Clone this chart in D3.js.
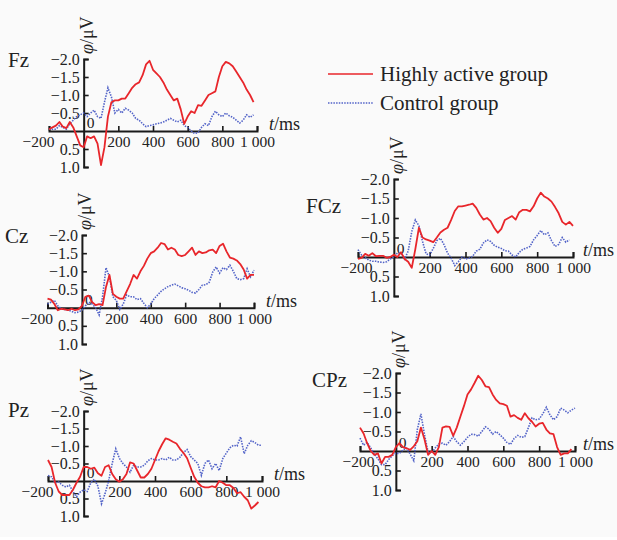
<!DOCTYPE html>
<html>
<head>
<meta charset="utf-8">
<script src="https://cdn.jsdelivr.net/npm/d3@7"></script>
<style>
body { margin: 0; background: #fafafa; }
svg { display: block; font-family: "Liberation Serif", "Times New Roman", serif; }
</style>
</head>
<body>
<div id="chart"></div>
<script>
// ERP waveforms at five electrodes, two groups

const times = [-200,-180,-160,-140,-120,-100,-80,-60,-40,-20,
	0,20,40,60,80,100,120,140,160,180,
	200,220,240,260,280,300,320,340,360,380,
	400,420,440,460,480,500,520,540,560,580,
	600,620,640,660,680,700,720,740,760,780,
	800,820,840,860,880,900,920,940,960,980,
	1000];

const fzHigh = [-0.05,-0.1,-0.15,-0.25,-0.12,-0.08,-0.25,-0.1,0.15,0.4,
	0.45,0.15,0.2,0.15,0.35,0.95,0.45,-0.4,-0.8,-0.85,
	-0.85,-0.9,-0.9,-1.05,-1.2,-1.3,-1.35,-1.55,-1.85,-1.95,
	-1.7,-1.6,-1.5,-1.35,-1.15,-1.0,-0.85,-0.9,-0.6,-0.2,
	-0.4,-0.55,-0.5,-0.72,-0.7,-0.85,-1.0,-1.05,-1.1,-1.5,
	-1.8,-1.92,-1.88,-1.8,-1.65,-1.5,-1.35,-1.15,-1.0,-0.8,
	null];
const fzControl = [-0.05,-0.05,-0.05,-0.15,-0.1,-0.05,-0.2,-0.3,-0.4,-0.45,
	-0.5,-0.4,-0.5,-0.58,-0.4,-0.35,-0.8,-1.2,-0.95,-0.5,
	-0.6,-0.5,-0.63,-0.58,-0.5,-0.35,-0.3,-0.2,-0.12,-0.15,
	-0.17,-0.2,-0.22,-0.25,-0.3,-0.35,-0.3,-0.25,-0.3,-0.15,
	-0.1,0.0,0.07,0.05,-0.1,-0.2,-0.15,-0.4,-0.55,-0.45,
	-0.4,-0.5,-0.42,-0.38,-0.3,-0.22,-0.3,-0.45,-0.38,-0.45,
	null];

const czHigh = [-0.25,-0.22,-0.1,0.07,0.03,0.05,0.07,0.03,0.07,0.05,
	-0.05,-0.3,-0.33,-0.15,-0.07,-0.1,-0.07,-0.57,-0.9,-0.38,
	-0.3,-0.25,-0.25,-0.45,-0.65,-0.9,-0.8,-1.0,-1.15,-1.35,
	-1.5,-1.55,-1.65,-1.78,-1.75,-1.6,-1.65,-1.6,-1.45,-1.42,
	-1.45,-1.55,-1.65,-1.45,-1.55,-1.5,-1.52,-1.58,-1.6,-1.5,
	-1.7,-1.76,-1.55,-1.38,-1.35,-1.3,-1.2,-1.05,-0.8,-0.9,
	-0.9];
const czControl = [-0.1,-0.15,-0.2,-0.05,0.03,0.05,0.07,0.1,0.14,0.12,
	0.07,-0.05,-0.15,-0.1,0.0,0.2,-0.3,-1.1,-0.85,-0.3,
	-0.2,0.05,-0.1,-0.35,-0.3,-0.3,-0.22,-0.25,-0.12,0.0,
	-0.1,-0.25,-0.35,-0.45,-0.52,-0.58,-0.62,-0.65,-0.6,-0.55,
	-0.52,-0.48,-0.42,-0.4,-0.5,-0.62,-0.63,-0.7,-0.98,-1.12,
	-0.95,-1.1,-1.05,-1.17,-1.0,-0.8,-0.77,-0.8,-1.07,-0.85,
	-1.03];

const pzHigh = [-0.6,-0.4,0.05,0.3,0.4,0.4,0.4,0.25,0.05,-0.12,
	-0.4,-0.4,-0.35,-0.38,-0.22,-0.15,-0.4,-0.45,-0.2,-0.05,
	0.02,-0.05,-0.2,-0.53,-0.5,-0.3,-0.1,-0.1,-0.2,-0.35,
	-0.6,-0.85,-1.05,-1.22,-1.18,-1.12,-1.07,-0.92,-0.8,-0.65,
	-0.38,-0.12,0.05,0.15,0.18,0.18,0.15,0.18,0.0,0.05,
	0.12,0.12,0.2,0.35,0.32,0.45,0.55,0.79,0.7,0.6,
	null];
const pzControl = [-0.16,-0.12,0.05,0.03,0.12,0.17,0.12,0.3,0.45,0.32,
	0.25,0.3,0.05,-0.05,0.15,0.65,0.36,0.0,-0.5,-0.92,
	-0.65,-0.5,-0.4,-0.25,-0.45,-0.4,-0.4,-0.45,-0.58,-0.64,
	-0.6,-0.6,-0.64,-0.6,-0.68,-0.6,-0.6,-0.68,-0.82,-0.9,
	-0.7,-0.6,-0.5,-0.16,-0.5,-0.6,-0.35,-0.5,-0.3,-0.64,
	-0.8,-0.95,-1.02,-1.0,-1.26,-0.78,-1.02,-1.15,-1.1,-1.02,
	-1.02];

const fczHigh = [0.05,0.02,-0.08,-0.03,-0.1,-0.02,-0.03,-0.03,0.02,0.0,
	-0.06,0.0,-0.12,0.05,0.12,0.28,-0.2,-0.75,-0.5,-0.45,
	-0.42,-0.38,-0.5,-0.63,-0.7,-0.75,-0.95,-1.18,-1.3,-1.3,
	-1.32,-1.34,-1.37,-1.26,-1.09,-0.96,-1.0,-0.92,-0.75,-0.62,
	-0.72,-0.95,-1.0,-1.05,-0.96,-1.15,-1.21,-1.21,-1.17,-1.3,
	-1.5,-1.65,-1.55,-1.5,-1.42,-1.28,-1.12,-0.9,-0.83,-0.9,
	-0.8];
const fczControl = [-0.19,-0.05,0.02,0.08,0.11,0.11,0.13,0.14,0.12,0.05,
	0.0,-0.1,-0.1,0.05,-0.15,-0.65,-0.95,-0.8,-0.4,-0.08,
	-0.05,-0.22,-0.42,-0.48,-0.32,-0.1,0.03,0.22,0.12,0.0,
	0.05,0.03,-0.02,-0.15,-0.2,-0.36,-0.44,-0.4,-0.3,-0.25,
	-0.22,-0.16,-0.15,-0.05,0.0,-0.12,-0.2,-0.23,-0.27,-0.44,
	-0.55,-0.68,-0.57,-0.62,-0.42,-0.27,-0.32,-0.5,-0.38,-0.44,
	null];

const cpzHigh = [-0.6,-0.45,-0.2,0.0,0.1,0.06,0.32,0.15,0.15,0.1,
	-0.1,-0.2,-0.1,-0.07,-0.03,-0.12,-0.25,-0.6,-0.3,0.1,
	0.0,0.1,-0.1,-0.6,-0.63,-0.62,-0.39,-0.6,-0.88,-1.15,
	-1.45,-1.58,-1.75,-1.93,-1.82,-1.66,-1.64,-1.45,-1.31,-1.22,
	-1.2,-1.16,-0.88,-0.92,-0.85,-0.8,-0.97,-0.84,-0.75,-0.63,
	-0.7,-0.72,-0.55,-0.45,-0.43,-0.1,0.1,0.06,0.06,-0.05,
	null];
const cpzControl = [-0.33,-0.15,-0.22,-0.08,0.08,0.2,0.35,0.35,0.22,0.12,
	0.06,0.06,-0.03,-0.07,0.08,0.25,-0.55,-0.95,-0.42,0.03,
	0.05,-0.08,-0.18,-0.2,-0.15,-0.24,-0.37,-0.24,-0.15,-0.24,
	-0.35,-0.43,-0.42,-0.38,-0.5,-0.62,-0.56,-0.43,-0.5,-0.42,
	-0.33,-0.22,-0.17,-0.32,-0.4,-0.35,-0.37,-0.6,-0.85,-0.8,
	-0.82,-0.95,-1.12,-0.93,-0.8,-0.88,-1.1,-1.05,-0.98,-1.05,
	-1.1];

const xTicks = [-200, 200, 400, 600, 800, 1000];
const xTickLabels = ["\u2212200", "200", "400", "600", "800", "1 000"];
const yTicks = [-2.0, -1.5, -1.0, -0.5, 0.5, 1.0];
const yTickLabels = ["\u22122.0", "\u22121.5", "\u22121.0", "\u22120.5", "0.5", "1.0"];
const groupNames = ["Highly active group", "Control group"];

const RED = "#e8262b";
const BLUE = "#5263c8";

// panel placement (pixels)
let panels = [
	{name: "Fz",  high: fzHigh,  control: fzControl,  x0: 49,  x1: 257, yTop: 59,  yBot: 167, lx: 8,   ly: 67,  negDx: 5,  tDx: 12},
	{name: "Cz",  high: czHigh,  control: czControl,  x0: 47.5, x1: 254, yTop: 235, yBot: 344, lx: 5,   ly: 243, negDx: 5,  tDx: 12},
	{name: "Pz",  high: pzHigh,  control: pzControl,  x0: 48,  x1: 262, yTop: 411, yBot: 516, lx: 8,   ly: 417, negDx: 5,  tDx: 12},
	{name: "FCz", high: fczHigh, control: fczControl, x0: 358, x1: 573, yTop: 179, yBot: 296, lx: 306, ly: 213, negDx: 14, tDx: 10},
	{name: "CPz", high: cpzHigh, control: cpzControl, x0: 360, x1: 575, yTop: 373, yBot: 490, lx: 312, ly: 387, negDx: 14, tDx: 8}
];

let svg = d3.select("#chart").append("svg")
	.attr("width", 617)
	.attr("height", 540);

svg.append("rect")
	.attr("width", 617).attr("height", 540)
	.attr("fill", "#fafafa");
svg.append("rect")
	.attr("y", 537).attr("width", 617).attr("height", 3)
	.attr("fill", "#ffffff");

for (let p of panels) {
	let x = d3.scaleLinear().domain([-200, 1000]).range([p.x0, p.x1]);
	let y = d3.scaleLinear().domain([-2, 1]).range([p.yTop, p.yBot]);
	let g = svg.append("g").attr("class", "panel");

	// electrode name
	g.append("text")
		.attr("x", p.lx).attr("y", p.ly)
		.attr("font-size", 21)
		.attr("fill", "#222")
		.text(p.name);

	// y axis, ticks pointing right, labels on the left
	let yAxis = d3.axisLeft(y)
		.tickValues(yTicks)
		.tickSizeInner(-5)
		.tickSizeOuter(-5)
		.tickPadding(4)
		.tickFormat((d, i) => yTickLabels[i]);
	let yg = g.append("g")
		.attr("transform", `translate(${x(0)},0)`)
		.call(yAxis);

	// x axis through zero
	let xAxis = d3.axisBottom(x)
		.tickValues(xTicks)
		.tickSizeInner(-5)
		.tickSizeOuter(-5)
		.tickPadding(5)
		.tickFormat((d, i) => xTickLabels[i]);
	let xg = g.append("g")
		.attr("transform", `translate(0,${y(0)})`)
		.call(xAxis);
	xg.selectAll(".tick text")
		.filter(d => d == -200)
		.attr("text-anchor", "end")
		.attr("dx", p.negDx);

	for (let ax of [xg, yg]) {
		ax.select(".domain").attr("stroke", "#1a1a1a").attr("stroke-width", 2);
		ax.selectAll(".tick line").attr("stroke", "#1a1a1a").attr("stroke-width", 1.6);
		ax.selectAll(".tick text")
			.attr("font-family", "Liberation Serif, serif")
			.attr("fill", "#222");
	}
	xg.selectAll(".tick text").attr("font-size", 15.5);
	yg.selectAll(".tick text").attr("font-size", 16);

	// origin label
	g.append("text")
		.attr("x", x(0) + 3).attr("y", y(0) - 3)
		.attr("font-size", 15.5)
		.attr("fill", "#222")
		.text("0");

	// x axis title
	let tx = g.append("text")
		.attr("x", p.x1 + p.tDx).attr("y", y(0) - 1)
		.attr("font-size", 18)
		.attr("fill", "#222");
	tx.append("tspan").attr("font-style", "italic").text("t");
	tx.append("tspan").text("/ms");

	// y axis title, rotated
	let ty = g.append("text")
		.attr("transform", `translate(${x(0) + 9},${p.yTop - 5}) rotate(-90)`)
		.attr("font-size", 18)
		.attr("fill", "#222");
	ty.append("tspan").attr("font-style", "italic").text("\u03c6");
	ty.append("tspan").text("/\u03bcV");

	let line = d3.line()
		.defined(d => d != null)
		.x((d, i) => x(times[i]))
		.y(d => y(d));

	g.append("path")
		.datum(p.control)
		.attr("d", line)
		.attr("fill", "none")
		.attr("stroke", BLUE)
		.attr("stroke-width", 1.6)
		.attr("stroke-dasharray", "1.5 1.2");

	g.append("path")
		.datum(p.high)
		.attr("d", line)
		.attr("fill", "none")
		.attr("stroke", RED)
		.attr("stroke-width", 1.8)
		.attr("stroke-linejoin", "round");
}

// legend
let legend = svg.append("g").attr("class", "legend");
let legendRows = legend.selectAll("g")
	.data(groupNames)
	.join("g")
	.attr("transform", (d, i) => `translate(328,${74 + i * 29})`);
legendRows.append("line")
	.attr("x1", 0).attr("x2", 45)
	.attr("stroke", (d, i) => i == 0 ? RED : BLUE)
	.attr("stroke-width", 1.6)
	.attr("stroke-dasharray", (d, i) => i == 0 ? null : "1.5 1.2");
legendRows.append("text")
	.attr("x", 52).attr("y", 7)
	.attr("font-size", 21)
	.attr("fill", "#222")
	.text(d => d);
</script>
</body>
</html>
